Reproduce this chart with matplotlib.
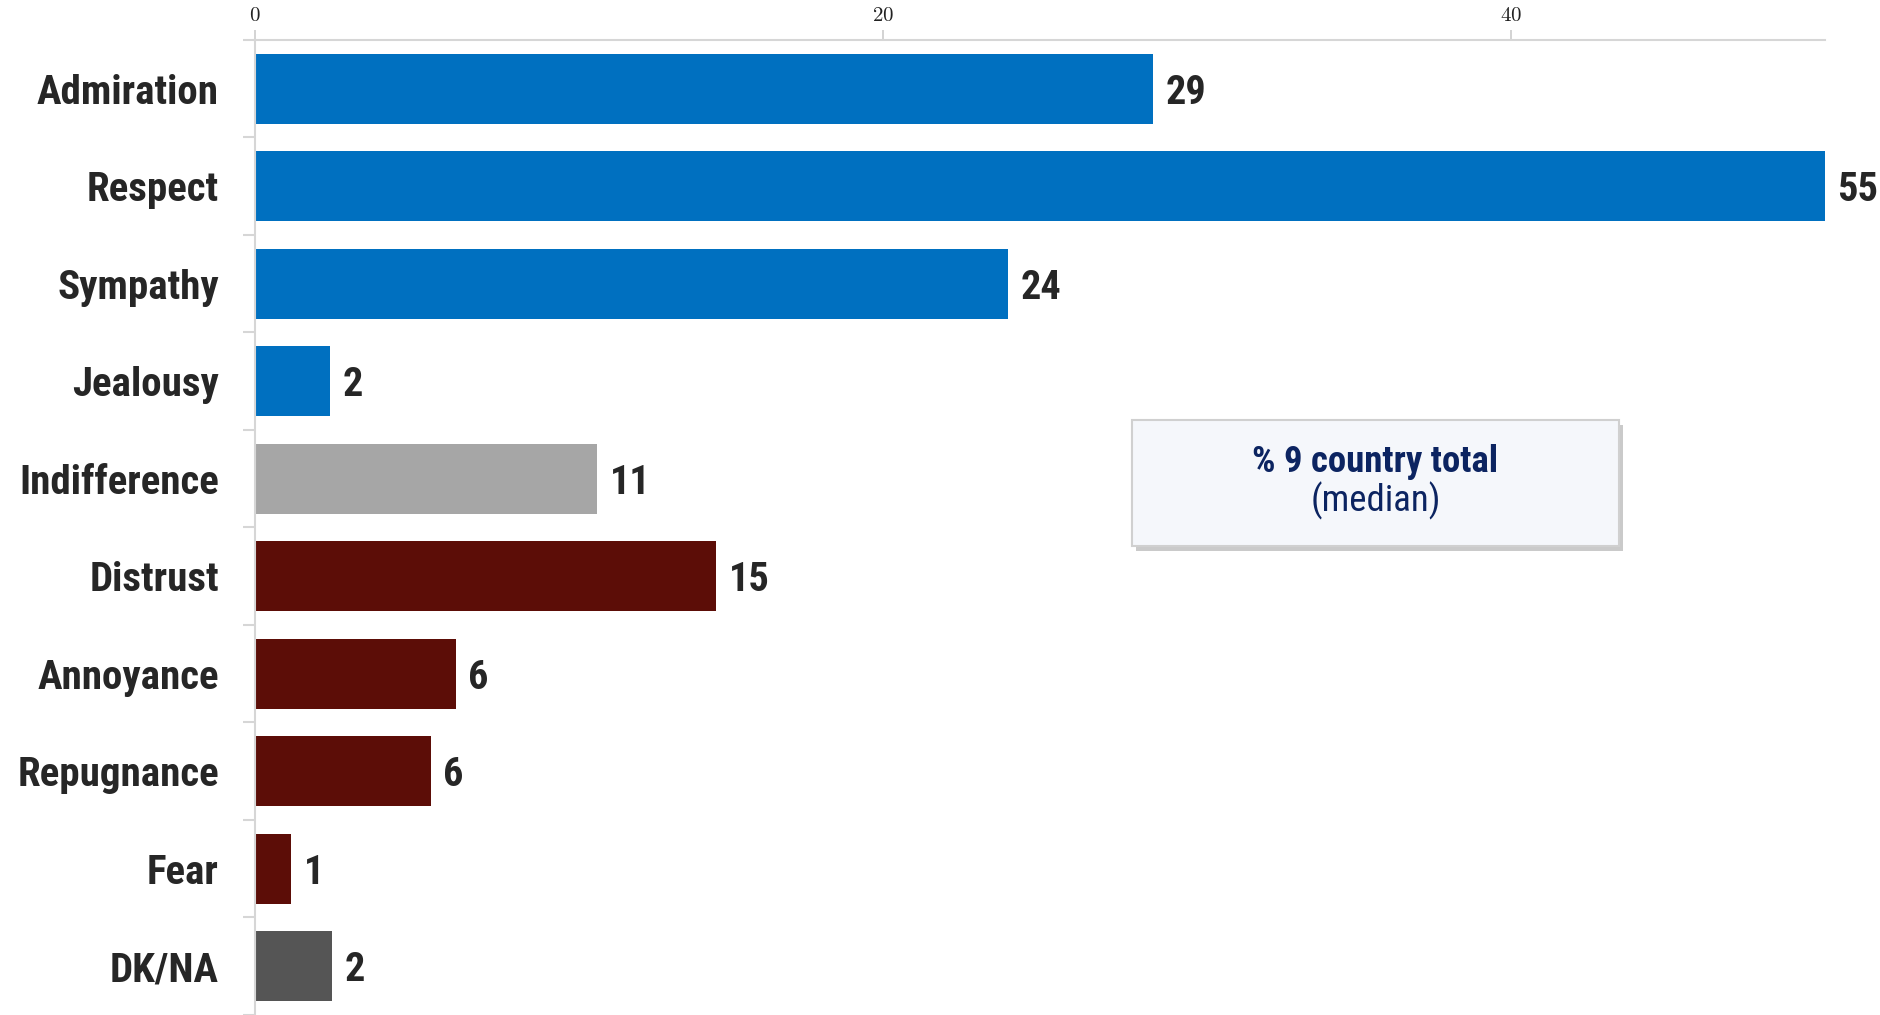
import numpy as np
import matplotlib
matplotlib.use("Agg")
import matplotlib.pyplot as plt
from matplotlib import font_manager
from matplotlib.patches import FancyBboxPatch

# data
categories = ["Admiration", "Respect", "Sympathy", "Jealousy", "Indifference",
              "Distrust", "Annoyance", "Repugnance", "Fear", "DK/NA"]
values = [28.6, 55, 24.0, 2.4, 10.9, 14.7, 6.4, 5.6, 1.15, 2.45]
groups = ["pos", "pos", "pos", "pos", "neu", "neg", "neg", "neg", "neg", "dk"]
group_colors = {"pos": "#0070c0", "neu": "#a6a6a6", "neg": "#5c0d07", "dk": "#555555"}
x_ticks = [0, 20, 40]
x_max = 50

plt.rcParams["mathtext.fontset"] = "cm"
names = {f.name for f in font_manager.fontManager.ttflist}
narrow = [n for n in ["Roboto Condensed", "Liberation Sans Narrow"] if n in names]
label_font = narrow + ["Liberation Sans", "DejaVu Sans"]
k = 1.0 if narrow else 0.88
fs_cat, fs_val, fs_box = 29.5 * k, 29 * k, 26.5 * k

fig = plt.figure(figsize=(18.8, 10.15), dpi=100)
ax = fig.add_axes([0.1356, 0.0, 0.9705 - 0.1356, 1 - 40 / 1015])

y = np.arange(len(categories))
colors = [group_colors[g] for g in groups]
ax.barh(y, values, height=0.72, color=colors, zorder=2)

ax.set_xlim(0, x_max)
ax.set_ylim(len(categories) - 0.5, -0.5)

# value labels
for yi, v in zip(y, values):
    ax.text(min(v, x_max) + 0.4, yi, f"{v:.0f}", va="center_baseline", ha="left",
            fontsize=fs_val, fontweight="bold", color="#262626", family=label_font,
            clip_on=False)

# x axis on top
ax.xaxis.tick_top()
ax.set_xticks(x_ticks)
ax.set_xticklabels([f"${t}$" for t in x_ticks], fontsize=15, color="#222222")
ax.tick_params(axis="x", direction="out", length=7, width=1.2, color="#cccccc", pad=4)

# y axis
ax.set_yticks(y)
ax.set_yticklabels(categories, fontsize=fs_cat, fontweight="bold", color="#262626",
                   family=label_font, va="center_baseline")
ax.tick_params(axis="y", which="major", length=0, pad=26)
ax.set_yticks(np.arange(len(categories) + 1) - 0.5, minor=True)
ax.tick_params(axis="y", which="minor", length=9, width=1.5, color="#d6d6d6")

for s in ["right", "bottom"]:
    ax.spines[s].set_visible(False)
ax.spines["top"].set_color("#d6d6d6")
ax.spines["top"].set_linewidth(1.5)
ax.spines["left"].set_color("#d6d6d6")
ax.spines["left"].set_linewidth(1.5)

# note box
bx0, by0, bw, bh = 1132 / 1880, 1 - 546 / 1015, 487 / 1880, 126 / 1015
shadow = FancyBboxPatch((bx0 + 0.002, by0 - 0.005), bw, bh, boxstyle="square,pad=0",
                        transform=fig.transFigure, facecolor="#bdbdbd", edgecolor="none",
                        alpha=0.8, zorder=3)
box = FancyBboxPatch((bx0, by0), bw, bh, boxstyle="square,pad=0",
                     transform=fig.transFigure, facecolor="#f5f7fb", edgecolor="#d0d0d0",
                     linewidth=1.5, zorder=4)
fig.patches.extend([shadow, box])
fig.text(bx0 + bw / 2, 1 - 462 / 1015, "% 9 country total", ha="center", va="center",
         fontsize=fs_box, fontweight="bold", color="#0c2461", family=label_font, zorder=5)
fig.text(bx0 + bw / 2, 1 - 501 / 1015, "(median)", ha="center", va="center",
         fontsize=fs_box, color="#0c2461", family=label_font, zorder=5)

fig.savefig("out.png", dpi=100)
